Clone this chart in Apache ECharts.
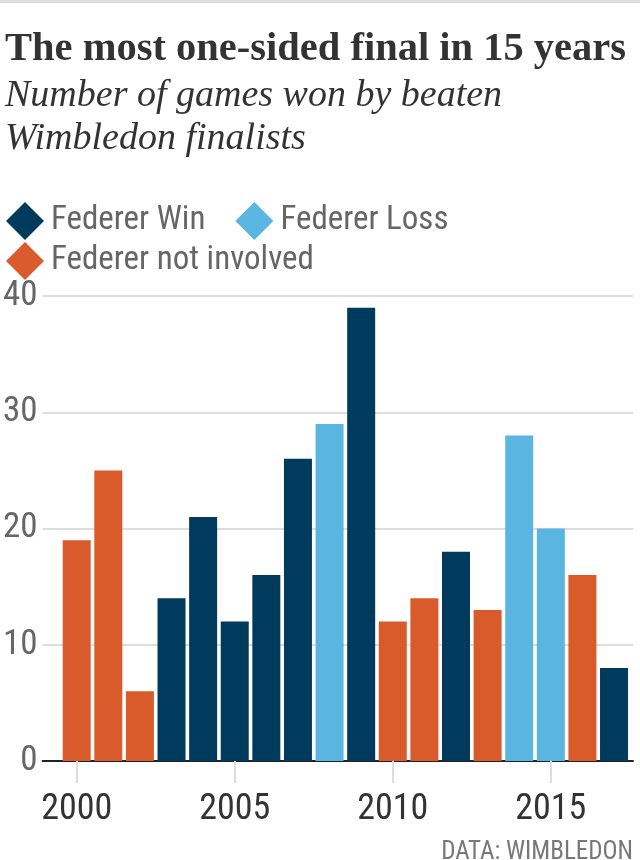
<!DOCTYPE html>
<html>
<head>
<meta charset="utf-8">
<script src="https://cdn.jsdelivr.net/npm/echarts@6/dist/echarts.min.js"></script>
<style>
html,body{margin:0;padding:0;background:#fff;}
#chart{width:640px;height:860px;}
</style>
</head>
<body>
<div id="chart"></div>
<script>
var years = [2000,2001,2002,2003,2004,2005,2006,2007,2008,2009,2010,2011,2012,2013,2014,2015,2016,2017];
var games = [19,25,6,14,21,12,16,26,29,39,12,14,18,13,28,20,16,8];
var outcome = ['N','N','N','W','W','W','W','W','L','W','N','N','W','N','L','L','N','W'];
var seriesNames = {W:'Federer Win', L:'Federer Loss', N:'Federer not involved'};
var colors = {W:'#003a5d', L:'#5ab6e1', N:'#d95b2b'};
var xTicks = [2000,2005,2010,2015];
var yTicks = [0,10,20,30,40];

var narrow = '"Liberation Sans Narrow","Roboto Condensed","DejaVu Sans Condensed","Open Sans",sans-serif';
var serif = '"Liberation Serif","DejaVu Serif",serif';

function dataFor(key){
  var out = [];
  for (var i=0;i<years.length;i++){ if (outcome[i]===key) out.push([years[i], games[i]]); }
  return out;
}

var series = ['W','L','N'].map(function(k){
  return {
    name: seriesNames[k], type:'bar', stack:'all', barWidth:28,
    itemStyle:{color:colors[k]}, data:dataFor(k), silent:true
  };
});

var legendText = {fontFamily:narrow, fontSize:33, color:'#666', padding:[0,0,0,2]};

var chart = echarts.init(document.getElementById('chart'));
chart.setOption({
  animation:false,
  backgroundColor:'#fff',
  title:[
    {text:'The most one-sided final in 15 years', left:0, top:24,
     textStyle:{fontFamily:serif, fontWeight:'bold', fontSize:40.5, color:'#333'}},
    {text:'Number of games won by beaten\nWimbledon finalists', left:0, top:70,
     textStyle:{fontFamily:serif, fontStyle:'italic', fontWeight:'normal', fontSize:38, lineHeight:43, color:'#333'}},
    {text:'DATA: WIMBLEDON', right:2, top:835,
     textStyle:{fontFamily:narrow, fontWeight:'normal', fontSize:25, color:'#777'}}
  ],
  legend:[
    {data:[seriesNames.W, seriesNames.L], left:1, top:197, icon:'diamond', itemWidth:38, itemHeight:38, itemGap:30,
     selectedMode:false, textStyle:legendText},
    {data:[seriesNames.N], left:1, top:237, icon:'diamond', itemWidth:38, itemHeight:38,
     selectedMode:false, textStyle:legendText}
  ],
  grid:{left:41, right:7, top:296, bottom:99, containLabel:false},
  xAxis:{
    type:'value', min:1998.92, max:2017.6,
    splitLine:{show:false},
    axisLine:{show:true, lineStyle:{color:'#222', width:2}},
    axisTick:{show:true, customValues:xTicks, length:22, lineStyle:{color:'#ddd', width:2}},
    axisLabel:{customValues:xTicks, margin:31, fontFamily:narrow, fontSize:36, color:'#333',
      formatter:function(v){return String(v);}}
  },
  yAxis:{
    type:'value', min:0, max:40, interval:10,
    axisLine:{show:false}, axisTick:{show:false},
    splitLine:{show:true, lineStyle:{color:'#ddd', width:2}},
    axisLabel:{margin:5, fontFamily:narrow, fontSize:35, color:'#666'}
  },
  graphic:[{type:'rect', left:0, top:0, shape:{width:640, height:3}, style:{fill:'#ddd'}}],
  series:series
});
</script>
</body>
</html>
